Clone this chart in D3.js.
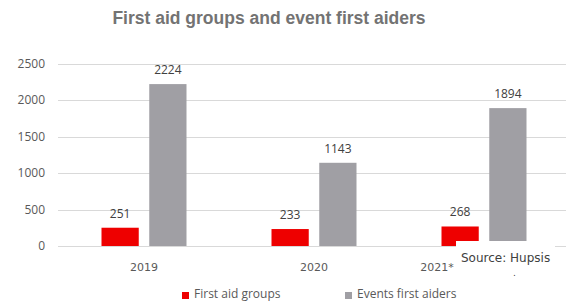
<!DOCTYPE html>
<html>
<head>
<meta charset="utf-8">
<script src="https://cdn.jsdelivr.net/npm/d3@7"></script>
<style>
  body { margin: 0; background: #fff; }
</style>
</head>
<body>
<div id="chart"></div>
<script>
// data
var years = ["2019", "2020", "2021*"];
var firstAidGroups = [251, 233, 268];
var eventFirstAiders = [2224, 1143, 1894];
var seriesNames = ["First aid groups", "Events first aiders"];
var yTicks = [0, 500, 1000, 1500, 2000, 2500];

var W = 566, H = 302;
var colors = ["#ee0000", "#a09fa4"];

var svg = d3.select("#chart").append("svg")
    .attr("width", W)
    .attr("height", H)
    .style("font-family", "'Open Sans', sans-serif");

// title
svg.append("text")
    .attr("x", 269)
    .attr("y", 24)
    .attr("text-anchor", "middle")
    .style("font-family", "'Liberation Sans', Arial, sans-serif")
    .style("font-weight", "bold")
    .style("font-size", "17.5px")
    .style("fill", "#737373")
    .text("First aid groups and event first aiders");

// scales
var y = d3.scaleLinear().domain([0, 2500]).range([246, 64]);
var x0 = d3.scaleBand().domain(years).range([59, 569]).paddingInner(0.5).paddingOuter(0.25);
var x1 = d3.scaleBand().domain(seriesNames).range([0, x0.bandwidth()]).paddingInner(0.22);

// gridlines
svg.append("g")
  .selectAll("line")
  .data(yTicks)
  .enter().append("line")
    .attr("x1", 58)
    .attr("x2", W)
    .attr("y1", function(d) { return Math.round(y(d)) + 0.5; })
    .attr("y2", function(d) { return Math.round(y(d)) + 0.5; })
    .attr("stroke", "#d9d9d9")
    .attr("stroke-width", 1);

// y axis labels
svg.append("g")
  .selectAll("text")
  .data(yTicks)
  .enter().append("text")
    .attr("x", 45)
    .attr("y", function(d) { return y(d) + 4; })
    .attr("text-anchor", "end")
    .style("font-size", "12px")
    .style("fill", "#595959")
    .text(function(d) { return d; });

// x axis labels
svg.append("g")
  .selectAll("text")
  .data(years)
  .enter().append("text")
    .attr("x", function(d, i) { return x0(d) + x0.bandwidth() / 2 + (i == 2 ? -47 : 0); })
    .attr("y", 271)
    .attr("text-anchor", "middle")
    .style("font-family", "'DejaVu Sans', Verdana, sans-serif")
    .style("font-size", "11px")
    .style("fill", "#595959")
    .text(function(d) { return d; });

// bars
var series = [firstAidGroups, eventFirstAiders];
series.forEach(function(vals, s) {
  var g = svg.append("g");
  g.selectAll("rect")
    .data(vals)
    .enter().append("rect")
      .attr("x", function(d, i) { return x0(years[i]) + x1(seriesNames[s]); })
      .attr("y", function(d) { return y(d); })
      .attr("width", x1.bandwidth())
      .attr("height", function(d) { return y(0) - y(d); })
      .attr("fill", colors[s]);
  g.selectAll("text")
    .data(vals)
    .enter().append("text")
      .attr("x", function(d, i) { return x0(years[i]) + x1(seriesNames[s]) + x1.bandwidth() / 2; })
      .attr("y", function(d) { return y(d) - 10; })
      .attr("text-anchor", "middle")
      .style("font-size", "12px")
      .style("fill", "#404040")
      .text(function(d) { return d; });
});

// legend
var legendX = [182, 345];
seriesNames.forEach(function(name, i) {
  svg.append("rect")
    .attr("x", legendX[i])
    .attr("y", 292)
    .attr("width", 7)
    .attr("height", 7)
    .attr("fill", colors[i]);
  svg.append("text")
    .attr("x", legendX[i] + 12)
    .attr("y", 298)
    .style("font-size", "12px")
    .style("fill", "#595959")
    .text(name);
});

// source box overlay
svg.append("rect")
    .attr("x", 456)
    .attr("y", 241)
    .attr("width", 99)
    .attr("height", 42)
    .attr("fill", "#fff");
svg.append("text")
    .attr("x", 461)
    .attr("y", 262)
    .style("font-family", "'DejaVu Sans', Verdana, sans-serif")
    .style("font-size", "12px")
    .style("fill", "#404040")
    .text("Source: Hupsis");
svg.append("text")
    .attr("x", 513)
    .attr("y", 276)
    .style("font-family", "'DejaVu Sans', Verdana, sans-serif")
    .style("font-size", "9px")
    .style("fill", "#404040")
    .text(".");
</script>
</body>
</html>
